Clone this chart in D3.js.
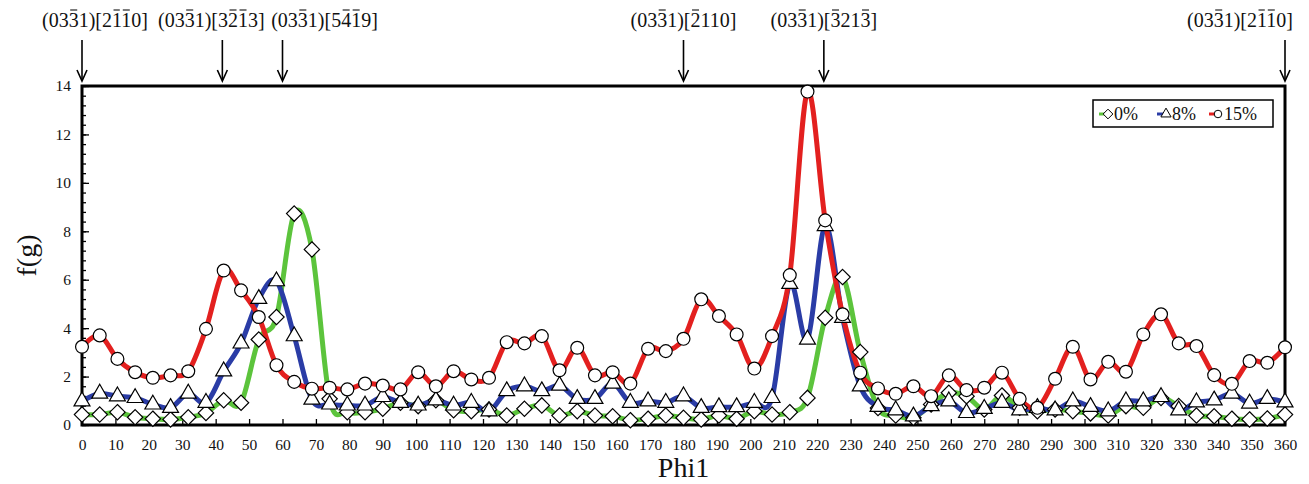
<!DOCTYPE html>
<html>
<head>
<meta charset="utf-8">
<script src="https://cdn.jsdelivr.net/npm/d3@7"></script>
<style>
  body { margin: 0; background: #fff; }
  text { font-family: "Liberation Serif", "DejaVu Serif", serif; fill: #111; }
</style>
</head>
<body>
<svg id="chart"></svg>
<script>
// Phi1 positions of the measured points (69 points over 0..360)
const phi1 = [0, 5.3, 10.6, 15.9, 21.2, 26.5, 31.8, 37.1, 42.4, 47.6, 52.9, 58.2, 63.5, 68.8, 74.1, 79.4,
    84.7, 90, 95.3, 100.6, 105.9, 111.2, 116.5, 121.8, 127.1, 132.4, 137.6, 142.9, 148.2, 153.5, 158.8,
    164.1, 169.4, 174.7, 180, 185.3, 190.6, 195.9, 201.2, 206.5, 211.8, 217.1, 222.4, 227.6, 232.9, 238.2,
    243.5, 248.8, 254.1, 259.4, 264.7, 270, 275.3, 280.6, 285.9, 291.2, 296.5, 301.8, 307.1, 312.4, 317.6,
    322.9, 328.2, 333.5, 338.8, 344.1, 349.4, 354.7, 360];

const f0 = [0.43, 0.43, 0.53, 0.32, 0.26, 0.23, 0.32, 0.50, 1.02, 0.92, 3.53, 4.46, 8.73, 7.25, 1.08, 0.53,
    0.53, 0.67, 0.92, 0.78, 1.02, 0.61, 0.57, 0.64, 0.39, 0.67, 0.81, 0.39, 0.57, 0.39, 0.36,
    0.20, 0.26, 0.39, 0.30, 0.23, 0.39, 0.26, 0.57, 0.43, 0.53, 1.12, 4.43, 6.11, 3.01, 0.70,
    0.39, 0.30, 0.85, 1.33, 1.19, 0.64, 1.22, 0.71, 0.57, 0.64, 0.57, 0.48, 0.39, 0.78, 0.71,
    1.12, 0.78, 0.39, 0.36, 0.26, 0.23, 0.27, 0.43];

const f8 = [0.98, 1.30, 1.19, 1.12, 0.85, 0.71, 1.30, 0.92, 2.22, 3.37, 5.21, 5.94, 3.67, 1.05, 0.85, 0.81,
    0.81, 1.16, 0.92, 0.81, 1.02, 0.81, 0.92, 0.57, 1.40, 1.60, 1.40, 1.63, 1.08, 1.08, 1.71,
    0.92, 0.98, 0.92, 1.19, 0.71, 0.74, 0.74, 0.92, 1.12, 5.83, 3.53, 8.22, 4.43, 1.60, 0.75,
    0.61, 0.36, 0.78, 0.98, 0.50, 0.67, 0.92, 0.61, 0.71, 0.61, 0.98, 0.75, 0.57, 0.98, 0.98,
    1.16, 0.61, 0.94, 1.02, 1.30, 0.89, 1.08, 0.94];

const f15 = [3.23, 3.70, 2.73, 2.18, 1.95, 2.05, 2.22, 3.97, 6.38, 5.56, 4.46, 2.47, 1.78, 1.50, 1.54, 1.47,
    1.71, 1.63, 1.47, 2.18, 1.60, 2.22, 1.88, 1.95, 3.42, 3.37, 3.67, 2.26, 3.19, 2.05, 2.18,
    1.71, 3.15, 3.05, 3.56, 5.19, 4.50, 3.74, 2.33, 3.67, 6.19, 13.77, 8.45, 4.57, 2.16, 1.51,
    1.29, 1.60, 1.19, 2.05, 1.44, 1.54, 2.16, 1.08, 0.71, 1.91, 3.23, 1.88, 2.61, 2.20, 3.74,
    4.57, 3.37, 3.26, 2.06, 1.70, 2.64, 2.57, 3.21];

const seriesNames = ["0%", "8%", "15%"];
const xTicks = d3.range(0, 361, 10);
const yTicks = [0, 2, 4, 6, 8, 10, 12, 14];

// orientation annotations along the top of the frame
// (barred digits are listed by character index)
const annoPhi = [0, 42, 60, 180, 222, 360];
const annoText = [
    "(0331)[2110]",
    "(0331)[3213]",
    "(0331)[5419]",
    "(0331)[2110]",
    "(0331)[3213]",
    "(0331)[2110]"
];
const annoBars = [
    [3, 8, 9],
    [3, 8, 9],
    [3, 8, 9],
    [3, 7],
    [3, 7, 10],
    [3, 8, 9]
];

const width = 1309, height = 484;
const margin = { top: 86, right: 24, bottom: 59, left: 82 };
const labelShift = [13, -11, 42, 0, 0, -45];

const svg = d3.select('#chart')
    .attr('width', width)
    .attr('height', height);

const x = d3.scaleLinear().domain([0, 360]).range([margin.left, width - margin.right]);
const y = d3.scaleLinear().domain([0, 14]).range([height - margin.bottom, margin.top]);

const colors = ["#5cc43c", "#2a3ca6", "#e3201f"];
const shapes = [d3.symbolDiamond2, d3.symbolTriangle, d3.symbolCircle];
const values = [f0, f8, f15];

// axes with inward ticks
const xAxis = d3.axisBottom(x).tickValues(xTicks).tickSizeInner(-6).tickSizeOuter(0).tickPadding(14);
const gx = svg.append('g')
    .attr('transform', 'translate(0,' + y(0) + ')')
    .call(xAxis);
gx.selectAll('text').style('font-size', '15.5px');

const yMinor = d3.range(0, 14.01, 0.4);
svg.append('g')
    .attr('transform', 'translate(' + x(0) + ',0)')
    .call(d3.axisLeft(y).tickValues(yMinor).tickSizeInner(-4).tickSizeOuter(0).tickFormat(''));
const gy = svg.append('g')
    .attr('transform', 'translate(' + x(0) + ',0)')
    .call(d3.axisLeft(y).tickValues(yTicks).tickSizeInner(-7).tickSizeOuter(0).tickPadding(11));
gy.selectAll('text').style('font-size', '15.5px');

svg.selectAll('.domain').remove();
svg.selectAll('.tick line').attr('stroke', '#000').attr('stroke-width', 1.3);

// frame
svg.append('rect')
    .attr('x', x(0))
    .attr('y', y(14))
    .attr('width', x(360) - x(0))
    .attr('height', y(0) - y(14))
    .attr('fill', 'none')
    .attr('stroke', '#000')
    .attr('stroke-width', 3);

// series
const line = d3.line()
    .x((d, i) => x(phi1[i]))
    .y(d => y(d))
    .curve(d3.curveCardinal.tension(0));

values.forEach((vals, k) => {
    svg.append('path')
        .datum(vals)
        .attr('d', line)
        .attr('fill', 'none')
        .attr('stroke', colors[k])
        .attr('stroke-width', 5);
});

values.forEach((vals, k) => {
    const size = k == 2 ? 130 : (k == 1 ? 110 : 150);
    svg.append('g').selectAll('path')
        .data(vals)
        .enter()
        .append('path')
        .attr('transform', (d, i) => 'translate(' + x(phi1[i]) + ',' + y(d) + ')')
        .attr('d', d3.symbol().type(shapes[k]).size(size))
        .attr('fill', '#fff')
        .attr('stroke', '#000')
        .attr('stroke-width', 1.2);
});

// annotations
const anno = svg.append('g');
annoPhi.forEach((p, i) => {
    anno.append('line')
        .attr('x1', x(p)).attr('x2', x(p))
        .attr('y1', 40).attr('y2', 80)
        .attr('stroke', '#000').attr('stroke-width', 1.6);
    anno.append('path')
        .attr('d', 'M' + (x(p) - 5) + ',70 L' + x(p) + ',81 L' + (x(p) + 5) + ',70')
        .attr('fill', 'none').attr('stroke', '#000').attr('stroke-width', 1.6);
    const t = anno.append('text')
        .attr('x', x(p) + labelShift[i])
        .attr('y', 27)
        .attr('text-anchor', 'middle')
        .style('font-size', '20px')
        .text(annoText[i]);
    const node = t.node();
    annoBars[i].forEach(ci => {
        const ext = node.getExtentOfChar(ci);
        anno.append('line')
            .attr('x1', ext.x + 1.5).attr('x2', ext.x + ext.width - 1.5)
            .attr('y1', 10).attr('y2', 10)
            .attr('stroke', '#111').attr('stroke-width', 1.1);
    });
});

// axis titles
svg.append('text')
    .attr('transform', 'translate(36,' + ((y(0) + y(14)) / 2) + ') rotate(-90)')
    .attr('text-anchor', 'middle')
    .style('font-size', '28px')
    .text('f(g)');

svg.append('text')
    .attr('x', (x(0) + x(360)) / 2)
    .attr('y', 477)
    .attr('text-anchor', 'middle')
    .style('font-size', '28px')
    .text('Phi1');

// legend
const legend = svg.append('g').attr('transform', 'translate(1093,100)');
legend.append('rect')
    .attr('width', 180).attr('height', 27)
    .attr('fill', '#fff').attr('stroke', '#000').attr('stroke-width', 1.5);
const legX = [12, 70, 122];
seriesNames.forEach((name, k) => {
    legend.append('line')
        .attr('x1', legX[k] - 6).attr('x2', legX[k] + 2)
        .attr('y1', 14).attr('y2', 14)
        .attr('stroke', colors[k]).attr('stroke-width', 3);
    legend.append('path')
        .attr('transform', 'translate(' + (legX[k] + 3) + ',14)')
        .attr('d', d3.symbol().type(shapes[k]).size(k == 0 ? 60 : 45))
        .attr('fill', '#fff').attr('stroke', '#000').attr('stroke-width', 1);
    legend.append('text')
        .attr('x', legX[k] + 9)
        .attr('y', 20)
        .style('font-size', '18px')
        .text(name);
});
</script>
</body>
</html>
